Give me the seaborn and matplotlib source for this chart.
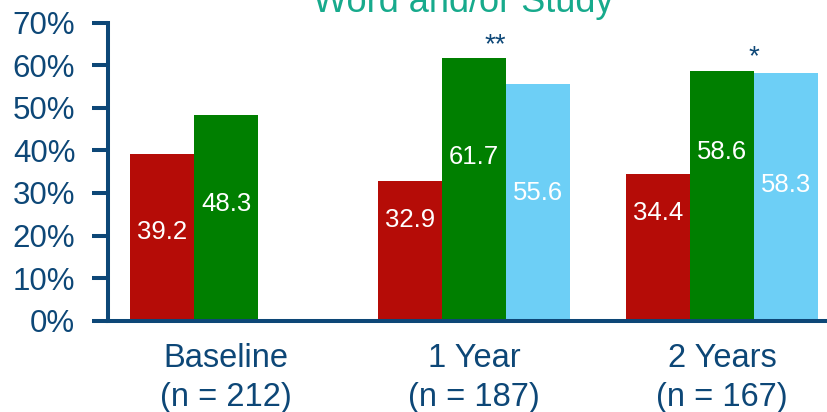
import numpy as np
import pandas as pd
import matplotlib
matplotlib.use("Agg")
import matplotlib.pyplot as plt
import seaborn as sns

# Time points and sample sizes
timepoints = ["Baseline", "1 Year", "2 Years"]
sample_sizes = [212, 187, 167]

# Percentages per group
group_names = ["Group 1", "Group 2", "Group 3"]
group1 = [39.2, 32.9, 34.4]
group2 = [48.3, 61.7, 58.6]
group3 = [np.nan, 55.6, 58.3]

# Height (in %) at which each bar's value label is centred
label_heights = {
    "Group 1": [20.8, 23.6, 25.3],
    "Group 2": [27.4, 38.4, 39.6],
    "Group 3": [np.nan, 30.0, 31.9],
}

# Significance markers: (time point index, marker text, height in %)
sig_markers = [(1, "**", 64.8), (2, "*", 62.0)]

colors = ["#b50c07", "#007f00", "#6dcff6"]
navy = "#0d4777"
teal = "#17aa8c"

sns.set_style("white")
plt.rcParams["font.family"] = ["Liberation Sans", "DejaVu Sans"]

df = pd.DataFrame({
    "timepoint": timepoints * 3,
    "group": np.repeat(group_names, 3),
    "value": group1 + group2 + group3,
})

fig = plt.figure(figsize=(8.27, 4.12), dpi=100)
ax = fig.add_axes([108 / 827, (412 - 320.7) / 412, 1 - 108 / 827, (320.7 - 22.7) / 412])

sns.barplot(data=df, x="timepoint", y="value", hue="group", order=timepoints,
            hue_order=group_names, palette=colors, width=0.774, dodge=True,
            saturation=1, linewidth=0, ax=ax, legend=False)

ax.set_ylim(0, 70)
ax.set_xlim(-0.476, 2.423)
ax.set_yticks(range(0, 71, 10))
ax.set_yticklabels([f"{v}%" for v in range(0, 71, 10)])
ax.set_xticks(range(len(timepoints)))
ax.set_xticklabels([f"{t}\n(n = {n})" for t, n in zip(timepoints, sample_sizes)])
ax.set_xlabel("")
ax.set_ylabel("")

for side in ["top", "right"]:
    ax.spines[side].set_visible(False)
for side in ["left", "bottom"]:
    ax.spines[side].set_color(navy)
    ax.spines[side].set_linewidth(2.9)
    ax.spines[side].set_capstyle("projecting")

ax.tick_params(axis="y", direction="out", length=11.5, width=2.9, color=navy,
               labelcolor=navy, labelsize=22.5, pad=12, left=True)
ax.tick_params(axis="x", length=0, labelcolor=navy, labelsize=23.5, pad=16)

# Value labels inside the bars (missing bars have no patch)
for name, container in zip(group_names, ax.containers):
    sub = df[df["group"] == name].reset_index(drop=True)
    heights = label_heights[name]
    pairs = [(v, h) for v, h in zip(sub["value"], heights) if not np.isnan(v)]
    for patch, (val, h) in zip(container.patches, pairs):
        ax.text(patch.get_x() + patch.get_width() / 2, h, f"{val:.1f}",
                ha="center", va="center", color="white", fontsize=18.5)

# Significance markers over the right-hand edge of the second group's bar
green_bars = ax.containers[1].patches
for idx, mark, h in sig_markers:
    p = green_bars[idx]
    x = p.get_x() + p.get_width() * (0.83 if len(mark) > 1 else 1.0)
    ax.text(x, h, mark, ha="center", va="center", color=navy, fontsize=20)

fig.text(463 / 827, (412 - 12) / 412, "Word and/or Study", ha="center",
         va="baseline", color=teal, fontsize=26)

# Widen the gap between the two lines of each category label
fig.canvas.draw()
for tick in ax.xaxis.get_major_ticks():
    tick.label1.set_linespacing(1.32)

fig.savefig("out.png", dpi=100)
